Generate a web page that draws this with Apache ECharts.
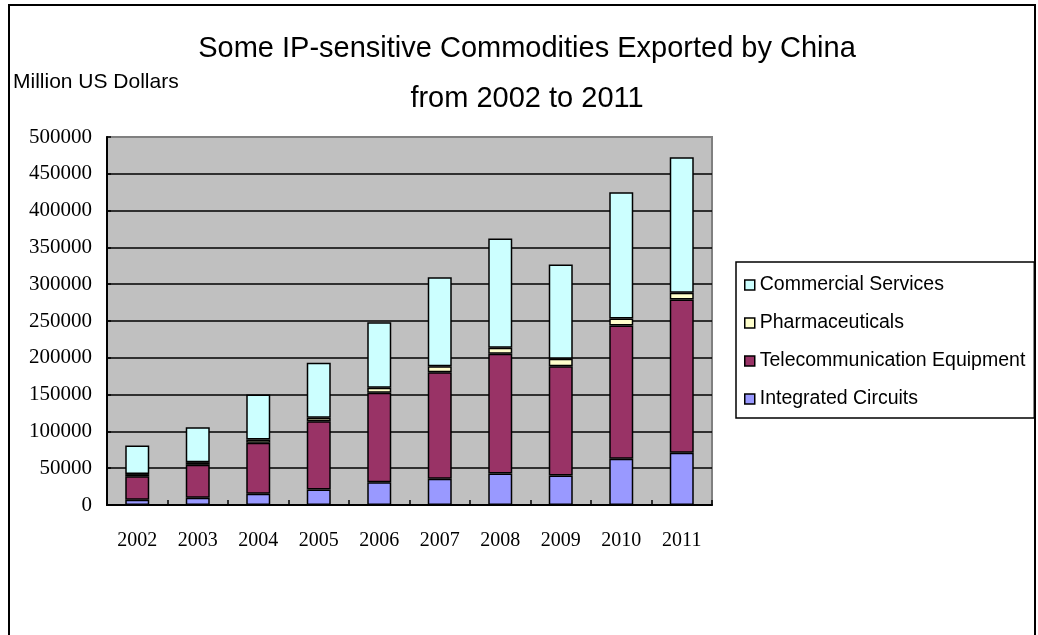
<!DOCTYPE html>
<html>
<head>
<meta charset="utf-8">
<script src="https://cdn.jsdelivr.net/npm/echarts@6/dist/echarts.min.js"></script>
<style>
html,body{margin:0;padding:0;background:#fff;}
#chart{width:1038px;height:635px;}
</style>
</head>
<body>
<div id="chart"></div>
<script>
// ---- data ----
var years = ['2002','2003','2004','2005','2006','2007','2008','2009','2010','2011'];
var integratedCircuits = [7000, 9800, 15200, 21000, 31000, 35600, 42800, 40100, 62800, 70900];
var telecomEquipment   = [32000, 44800, 69300, 92900, 121400, 144800, 162600, 148500, 181100, 208300];
var pharmaceuticals    = [3000, 3600, 4500, 4600, 6800, 8200, 8200, 10000, 9500, 9100];
var commercialServices = [38800, 47500, 61100, 74700, 89200, 120900, 148500, 128200, 171600, 184300];
var seriesNames = ['Integrated Circuits','Telecommunication Equipment','Pharmaceuticals','Commercial Services'];
var legendOrder = ['Commercial Services','Pharmaceuticals','Telecommunication Equipment','Integrated Circuits'];
var titleText = 'Some IP-sensitive Commodities Exported by China\nfrom 2002 to 2011';
var unitText = 'Million US Dollars';

var SANS = "'Liberation Sans', Arial, sans-serif";
var SERIF = "'Liberation Serif', 'Times New Roman', serif";

var chart = echarts.init(document.getElementById('chart'), null, {renderer:'canvas'});

function barSeries(name, data, color){
  return {
    name: name, type: 'bar', stack: 'total', data: data,
    barWidth: 24,
    itemStyle: {color: color, borderColor: '#000', borderWidth: 1.5},
    emphasis: {disabled: true}
  };
}
var splitColors = [];
for (var i = 0; i < 10; i++) splitColors.push('#000');
splitColors.push('#808080');

chart.setOption({
  animation: false,
  backgroundColor: '#fff',
  title: [{
    text: titleText,
    left: 527,
    top: 24,
    padding: 0,
    textAlign: 'center',
    textStyle: {fontFamily: SANS, fontSize: 29, fontWeight: 'normal', color: '#000', lineHeight: 50}
  }, {
    text: unitText,
    left: 13,
    top: 71,
    padding: 0,
    textStyle: {fontFamily: SANS, fontSize: 21, fontWeight: 'normal', color: '#000', lineHeight: 22}
  }],
  legend: {
    data: legendOrder,
    orient: 'vertical',
    left: 736,
    top: 262,
    padding: [12, 9, 8, 8],
    itemGap: 16,
    itemWidth: 10,
    itemHeight: 10,
    icon: 'rect',
    borderColor: '#000',
    borderWidth: 1.5,
    itemStyle: {borderColor: '#000', borderWidth: 1.5},
    textStyle: {fontFamily: SANS, fontSize: 19.5, color: '#000', lineHeight: 22},
    selectedMode: false
  },
  grid: {
    left: 107, right: 326, top: 137, bottom: 130,
    show: true, backgroundColor: '#C0C0C0', borderColor: '#808080', borderWidth: 2,
    containLabel: false
  },
  xAxis: {
    type: 'category',
    data: years,
    axisLine: {lineStyle: {color: '#000', width: 2}},
    axisTick: {show: true, inside: true, length: 5, lineStyle: {color: '#000', width: 1.5}},
    axisLabel: {fontFamily: SERIF, fontSize: 20, color: '#000', margin: 26}
  },
  yAxis: {
    type: 'value',
    min: 0, max: 500000, interval: 50000,
    axisLine: {show: true, lineStyle: {color: '#000', width: 2}},
    axisTick: {show: true, inside: true, length: 4, lineStyle: {color: '#000', width: 1.5}},
    axisLabel: {fontFamily: SERIF, fontSize: 21, color: '#000', margin: 15, formatter: function(v){return String(v);}},
    splitLine: {show: true, lineStyle: {color: splitColors, width: 1.5}}
  },
  series: [
    barSeries(seriesNames[0], integratedCircuits, '#9999FF'),
    barSeries(seriesNames[1], telecomEquipment, '#993366'),
    barSeries(seriesNames[2], pharmaceuticals, '#FFFFCC'),
    barSeries(seriesNames[3], commercialServices, '#CCFFFF')
  ],
  graphic: [{
    type: 'rect',
    shape: {x: 9, y: 5, width: 1026, height: 640},
    style: {fill: null, stroke: '#000', lineWidth: 2},
    silent: true,
    z: 100
  }]
});
</script>
</body>
</html>
